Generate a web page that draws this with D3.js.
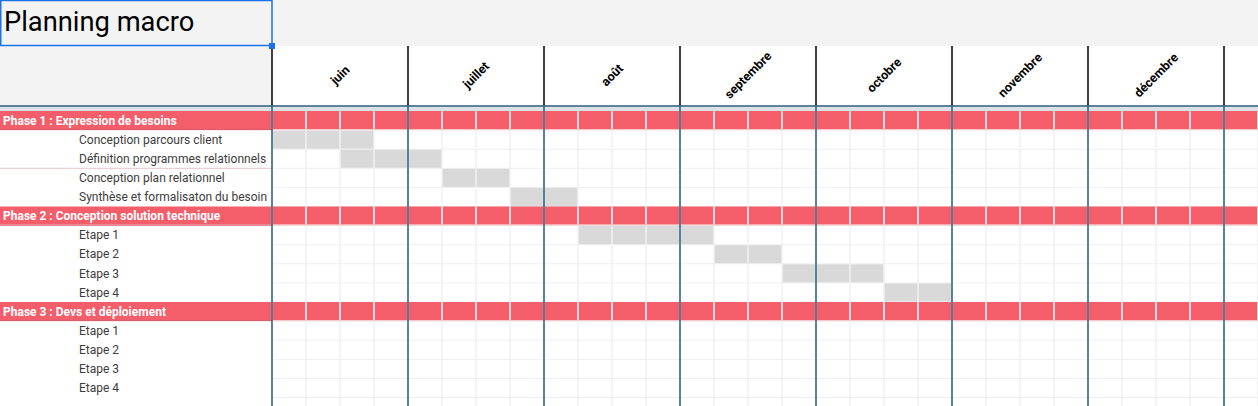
<!DOCTYPE html>
<html>
<head>
<meta charset="utf-8">
<script src="https://cdn.jsdelivr.net/npm/d3@7"></script>
<style>
  body { margin: 0; background: #fff; }
  svg { display: block; }
</style>
</head>
<body>
<div id="container"></div>
<script>
// size of the sheet picture
let w = 1258;
let h = 406;

// data
let title = "Planning macro";
let months = ["juin", "juillet", "août", "septembre", "octobre", "novembre", "décembre"];
let weeksPerMonth = 4;

let rowLabels = [
  "Phase 1 : Expression de besoins",
  "Conception parcours client",
  "Définition programmes relationnels",
  "Conception plan relationnel",
  "Synthèse et formalisaton du besoin",
  "Phase 2 : Conception solution technique",
  "Etape 1",
  "Etape 2",
  "Etape 3",
  "Etape 4",
  "Phase 3 : Devs et déploiement",
  "Etape 1",
  "Etape 2",
  "Etape 3",
  "Etape 4",
  ""
];
let rowIsPhase = [1, 0, 0, 0, 0, 1, 0, 0, 0, 0, 1, 0, 0, 0, 0, 0];
// first week and number of weeks of each task (null = no bar)
let taskStart = [null, 0, 2, 5, 7, null, 9, 13, 15, 18, null, null, null, null, null, null];
let taskWeeks = [null, 3, 3, 2, 2, null, 4, 2, 3, 2, null, null, null, null, null, null];

// layout
let labelW = 272;
let headTop = 46;
let headBottom = 106;
let bodyTop = 111;
let rowH = 19.1;
let totalWeeks = months.length * weeksPerMonth + 1; // one extra week at the right edge

let red = "#f45e6b";
let teal = "#255e7d";
let grid = "#eeeeee";
let barGrey = "#d9d9d9";

let viz = d3.select("#container")
  .append("svg")
    .attr("width", w)
    .attr("height", h)
    .style("font-family", "Roboto, sans-serif")
;

// scales
let xScale = d3.scaleLinear().domain([0, totalWeeks]).range([labelW, labelW + totalWeeks * 34]);
let yScale = d3.scaleBand().domain(d3.range(rowLabels.length))
  .range([bodyTop, bodyTop + rowLabels.length * rowH]).padding(0);

let weekIdx = d3.range(totalWeeks + 1);
let monthIdx = d3.range(months.length + 1);

// top grey band + header
viz.append("rect").attr("x", 0).attr("y", 0).attr("width", w).attr("height", headTop).attr("fill", "#f3f3f3");
viz.append("rect").attr("x", 0).attr("y", headTop).attr("width", labelW).attr("height", headBottom - headTop).attr("fill", "#f3f3f3");
viz.append("rect").attr("x", labelW).attr("y", headTop).attr("width", w - labelW).attr("height", headBottom - headTop).attr("fill", "#ffffff");

viz.selectAll(".headline").data(monthIdx).enter()
  .append("line")
    .attr("class", "headline")
    .attr("x1", d => xScale(d * weeksPerMonth))
    .attr("x2", d => xScale(d * weeksPerMonth))
    .attr("y1", headTop)
    .attr("y2", headBottom)
    .attr("stroke", "#000")
    .attr("stroke-width", 1.5)
;

viz.selectAll(".month").data(months).enter()
  .append("text")
    .attr("class", "month")
    .attr("transform", (d, i) => "translate(" + xScale(i * weeksPerMonth + weeksPerMonth / 2) + ",75) rotate(-45)")
    .attr("text-anchor", "middle")
    .attr("dy", "0.35em")
    .style("font-size", "12.5px")
    .style("font-weight", "bold")
    .attr("fill", "#000")
    .text(d => d)
;

viz.append("rect").attr("x", 0).attr("y", headBottom + 0.5).attr("width", w).attr("height", bodyTop - headBottom - 0.5).attr("fill", "#dde1e6");
viz.append("line").attr("x1", 0).attr("x2", w).attr("y1", headBottom).attr("y2", headBottom)
  .attr("stroke", teal).attr("stroke-width", 1.5);

// body grid
viz.selectAll(".hgrid").data(d3.range(rowLabels.length)).enter()
  .append("line")
    .attr("class", "hgrid")
    .attr("x1", labelW)
    .attr("x2", w)
    .attr("y1", d => yScale(d) + rowH)
    .attr("y2", d => yScale(d) + rowH)
    .attr("stroke", grid)
;

// task bars, one grey cell per week
let cells = [];
rowLabels.forEach(function (lab, i) {
  if (taskStart[i] == null) return;
  for (let k = 0; k < taskWeeks[i]; k++) cells.push({ row: i, week: taskStart[i] + k });
});

viz.selectAll(".cell").data(cells).enter()
  .append("rect")
    .attr("class", "cell")
    .attr("x", d => xScale(d.week))
    .attr("y", d => yScale(d.row) + 0.5)
    .attr("width", xScale(1) - xScale(0))
    .attr("height", rowH - 1)
    .attr("fill", barGrey)
;

viz.selectAll(".vgrid").data(weekIdx).enter()
  .append("line")
    .attr("class", "vgrid")
    .attr("x1", d => xScale(d))
    .attr("x2", d => xScale(d))
    .attr("y1", bodyTop)
    .attr("y2", h)
    .attr("stroke", "#f0f0f0")
    .attr("stroke-width", 1.5)
;

// phase rows
let phaseRows = d3.range(rowLabels.length).filter(i => rowIsPhase[i]);

viz.selectAll(".phase").data(phaseRows).enter()
  .append("rect")
    .attr("class", "phase")
    .attr("x", 0)
    .attr("y", d => yScale(d))
    .attr("width", w)
    .attr("height", rowH - 1)
    .attr("fill", red)
;
viz.selectAll(".phaseedge").data(phaseRows).enter()
  .append("line")
    .attr("class", "phaseedge")
    .attr("x1", 0)
    .attr("x2", w)
    .attr("y1", d => yScale(d) + rowH - 0.5)
    .attr("y2", d => yScale(d) + rowH - 0.5)
    .attr("stroke", "#f6c5ca")
;
viz.selectAll(".phaselabeledge").data(phaseRows).enter()
  .append("line")
    .attr("class", "phaselabeledge")
    .attr("x1", 0)
    .attr("x2", labelW)
    .attr("y1", d => yScale(d) + rowH - 0.5)
    .attr("y2", d => yScale(d) + rowH - 0.5)
    .attr("stroke", "#d9535f")
;

phaseRows.forEach(function (r) {
  viz.selectAll(".psep" + r).data(weekIdx).enter()
    .append("line")
      .attr("x1", d => xScale(d))
      .attr("x2", d => xScale(d))
      .attr("y1", yScale(r))
      .attr("y2", yScale(r) + rowH - 1)
      .attr("stroke", "#ffffff")
      .attr("stroke-width", 1.5)
  ;
});

// thin pink line under one label cell (as in the sheet)
viz.append("line").attr("x1", 0).attr("x2", labelW).attr("y1", yScale(3)).attr("y2", yScale(3))
  .attr("stroke", "#e8c4c8");

// month lines through the body
viz.selectAll(".mline").data(monthIdx).enter()
  .append("line")
    .attr("class", "mline")
    .attr("x1", d => xScale(d * weeksPerMonth))
    .attr("x2", d => xScale(d * weeksPerMonth))
    .attr("y1", headBottom)
    .attr("y2", h)
    .attr("stroke", teal)
    .attr("stroke-width", 1.5)
;

// row labels
viz.selectAll(".rowlabel").data(rowLabels).enter()
  .append("text")
    .attr("class", "rowlabel")
    .attr("x", (d, i) => rowIsPhase[i] ? 3 : 79)
    .attr("y", (d, i) => yScale(i) + rowH / 2)
    .attr("dy", "0.35em")
    .style("font-size", "12px")
    .style("font-weight", (d, i) => rowIsPhase[i] ? "bold" : "normal")
    .attr("fill", (d, i) => rowIsPhase[i] ? "#ffffff" : "#3c3c3c")
    .text(d => d)
;

// title cell with selection border
viz.append("text")
  .attr("x", 4)
  .attr("y", 31)
  .style("font-size", "27.3px")
  .attr("fill", "#000")
  .text(title);

viz.append("rect")
  .attr("x", 0.75).attr("y", 0.5)
  .attr("width", labelW - 0.75).attr("height", headTop - 1)
  .attr("fill", "none")
  .attr("stroke", "#1a73e8")
  .attr("stroke-width", 1.5);
viz.append("rect")
  .attr("x", labelW - 3).attr("y", headTop - 3)
  .attr("width", 6).attr("height", 6)
  .attr("fill", "#1a73e8");
</script>
</body>
</html>
